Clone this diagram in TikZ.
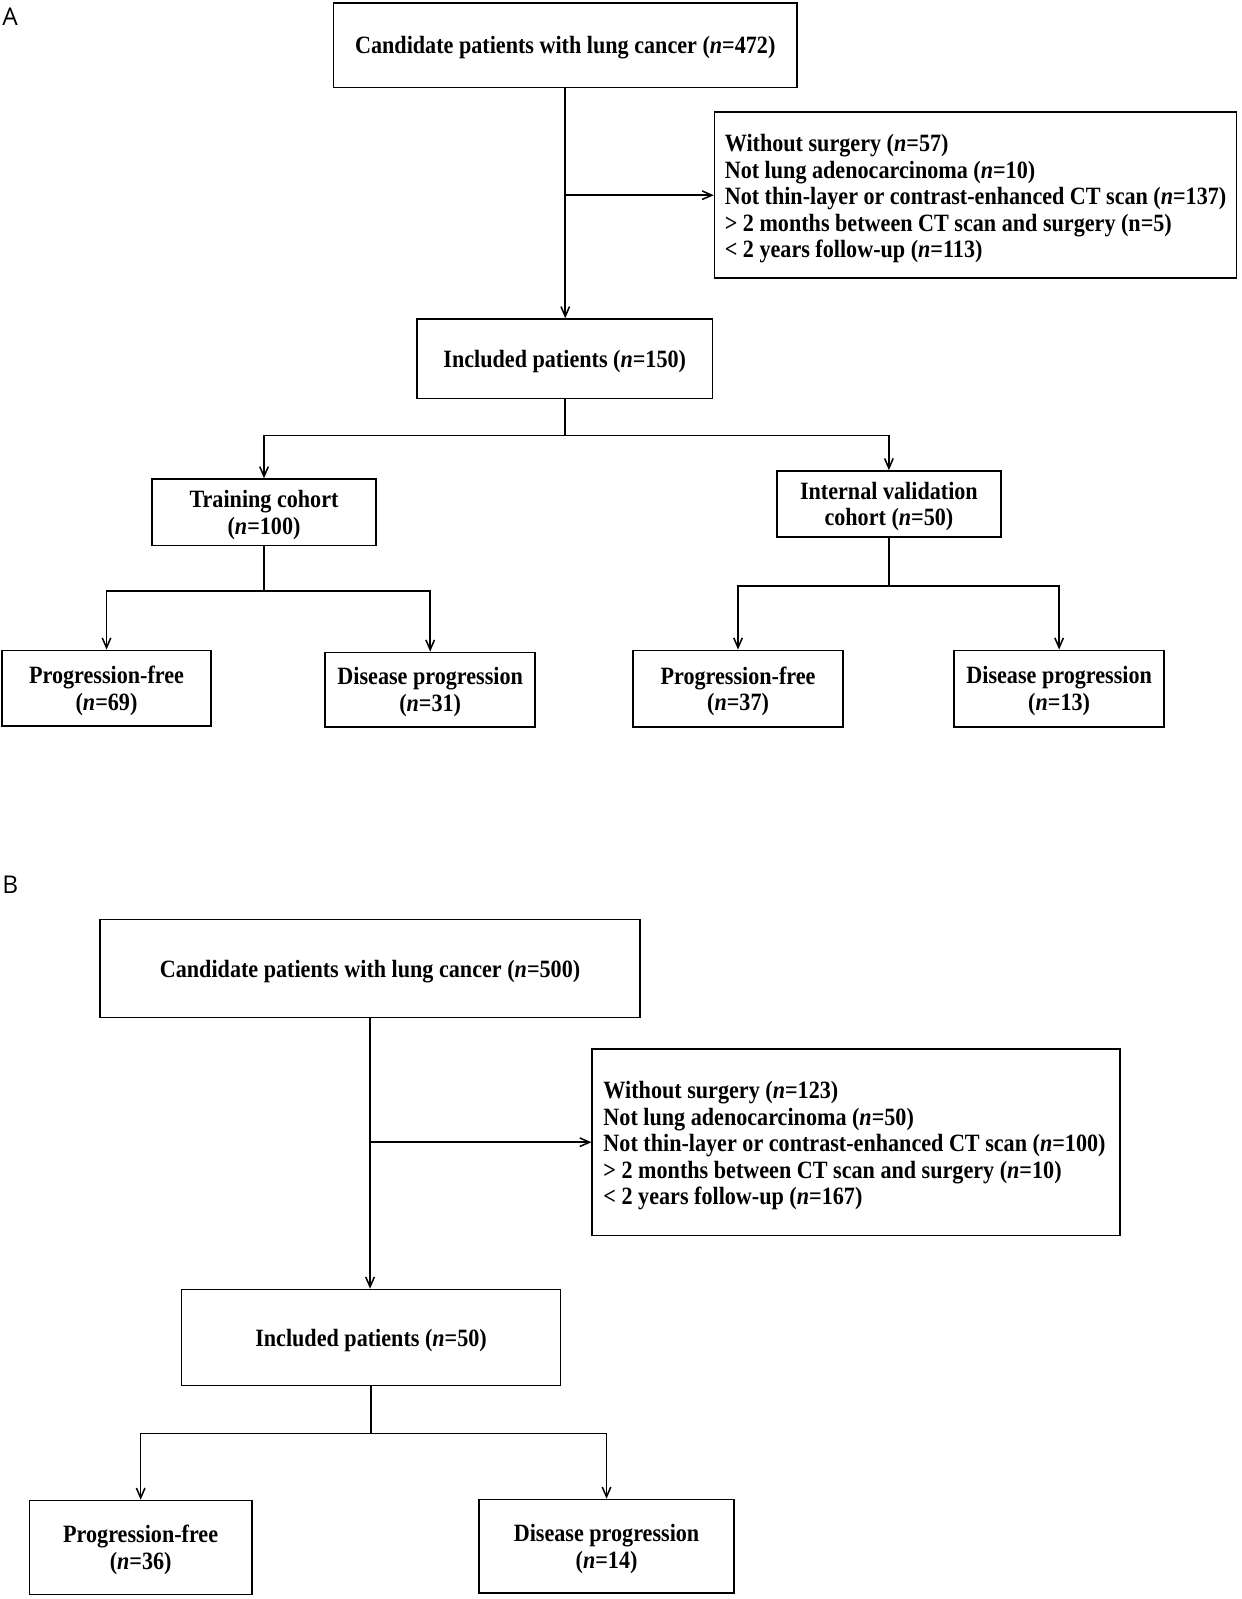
\documentclass[tikz,border=0pt]{standalone}
\usepackage{fontspec}
\setmainfont{Liberation Serif}[FakeStretch=0.89]
\newfontfamily\panelfont{Open Sans}
\usetikzlibrary{arrows.meta}

\begin{document}
\begin{tikzpicture}[x=0.5pt, y=-0.5pt,
    box/.style={draw, line width=0.8pt, align=center, inner sep=0pt, text depth=0pt,
        font=\fontsize{12.2pt}{13pt}\selectfont\bfseries},
    listbox/.style={draw, line width=0.8pt, align=flush left, inner xsep=5pt, inner ysep=0pt,
        execute at begin node={\rule{0pt}{11.8pt}}, font=\fontsize{12.2pt}{13pt}\selectfont\bfseries},
    arr/.style={line width=0.75pt, -{Straight Barb[length=4.8pt,width=4.2pt]}},
    link/.style={line width=0.75pt},
    panel/.style={anchor=west, inner sep=0pt, font=\panelfont\fontsize{12pt}{14pt}\selectfont}
]

    \useasboundingbox (0,0) rectangle (1217.5,1568.6);

    % Panel A
    \node[panel] (labA) at (2,16) {A};

    \node[box, minimum width=227.5pt, minimum height=41.5pt] (candA) at (554.5,44.5)
        {Candidate patients with lung cancer (\textit{n}=472)};
    \node[listbox, text width=246pt, minimum height=81.5pt] (exclA) at (957,191.5)
        {Without surgery (\textit{n}=57)\\
         Not lung adenocarcinoma (\textit{n}=10)\\
         Not thin-layer or contrast-enhanced CT scan (\textit{n}=137)\\
         > 2 months between CT scan and surgery (n=5)\\
         < 2 years follow-up (\textit{n}=113)};
    \node[box, minimum width=145pt, minimum height=39pt] (inclA) at (554,352)
        {Included patients (\textit{n}=150)};

    % Cohorts
    \node[box, minimum width=110pt, minimum height=32.5pt] (trainA) at (259,502.5)
        {Training cohort\\(\textit{n}=100)};
    \node[box, minimum width=110pt, minimum height=32.5pt] (validA) at (872,494.5)
        {Internal validation\\cohort (\textit{n}=50)};

    % Outcomes
    \node[box, minimum width=102.5pt, minimum height=37pt] (pfA1) at (104.5,675)
        {Progression-free\\(\textit{n}=69)};
    \node[box, minimum width=103pt, minimum height=36.5pt] (dpA1) at (422,676.5)
        {Disease progression\\(\textit{n}=31)};
    \node[box, minimum width=103pt, minimum height=37.5pt] (pfA2) at (724,675.5)
        {Progression-free\\(\textit{n}=37)};
    \node[box, minimum width=103pt, minimum height=37.5pt] (dpA2) at (1039,675.5)
        {Disease progression\\(\textit{n}=13)};

    % Connectors A
    \draw[arr] (candA.south) -- (candA.south |- inclA.north);
    \draw[arr] (candA.south |- exclA.west) -- (exclA.west);

    \coordinate (splitA) at (554,427);
    \draw[link] (inclA.south) -- (splitA);
    \draw[arr] (splitA) -| (trainA.north);
    \draw[arr] (splitA) -| (validA.north);

    \coordinate (splitT) at (259,580);
    \draw[link] (trainA.south) -- (splitT);
    \draw[arr] (splitT) -| (pfA1.north);
    \draw[arr] (splitT) -| (dpA1.north);

    \coordinate (splitV) at (872,575);
    \draw[link] (validA.south) -- (splitV);
    \draw[arr] (splitV) -| (pfA2.north);
    \draw[arr] (splitV) -| (dpA2.north);

    % Panel B
    \node[panel] (labB) at (2,868) {B};

    \node[box, minimum width=265pt, minimum height=48pt] (candB) at (363,950)
        {Candidate patients with lung cancer (\textit{n}=500)};
    \node[listbox, inner xsep=5.5pt, text width=248pt, minimum height=91.5pt] (exclB) at (840,1120.5)
        {Without surgery (\textit{n}=123)\\
         Not lung adenocarcinoma (\textit{n}=50)\\
         Not thin-layer or contrast-enhanced CT scan (\textit{n}=100)\\
         > 2 months between CT scan and surgery (\textit{n}=10)\\
         < 2 years follow-up (\textit{n}=167)};
    \node[box, minimum width=186pt, minimum height=47pt] (inclB) at (364,1312)
        {Included patients (\textit{n}=50)};

    \node[box, minimum width=109pt, minimum height=46pt] (pfB) at (138,1518)
        {Progression-free\\(\textit{n}=36)};
    \node[box, minimum width=125pt, minimum height=46pt] (dpB) at (595,1517)
        {Disease progression\\(\textit{n}=14)};

    % Connectors B
    \draw[arr] (candB.south) -- (candB.south |- inclB.north);
    \draw[arr] (candB.south |- exclB.west) -- (exclB.west);

    \coordinate (splitB) at (364,1406);
    \draw[link] (inclB.south) -- (splitB);
    \draw[arr] (splitB) -| (pfB.north);
    \draw[arr] (splitB) -| (dpB.north);

\end{tikzpicture}
\end{document}
